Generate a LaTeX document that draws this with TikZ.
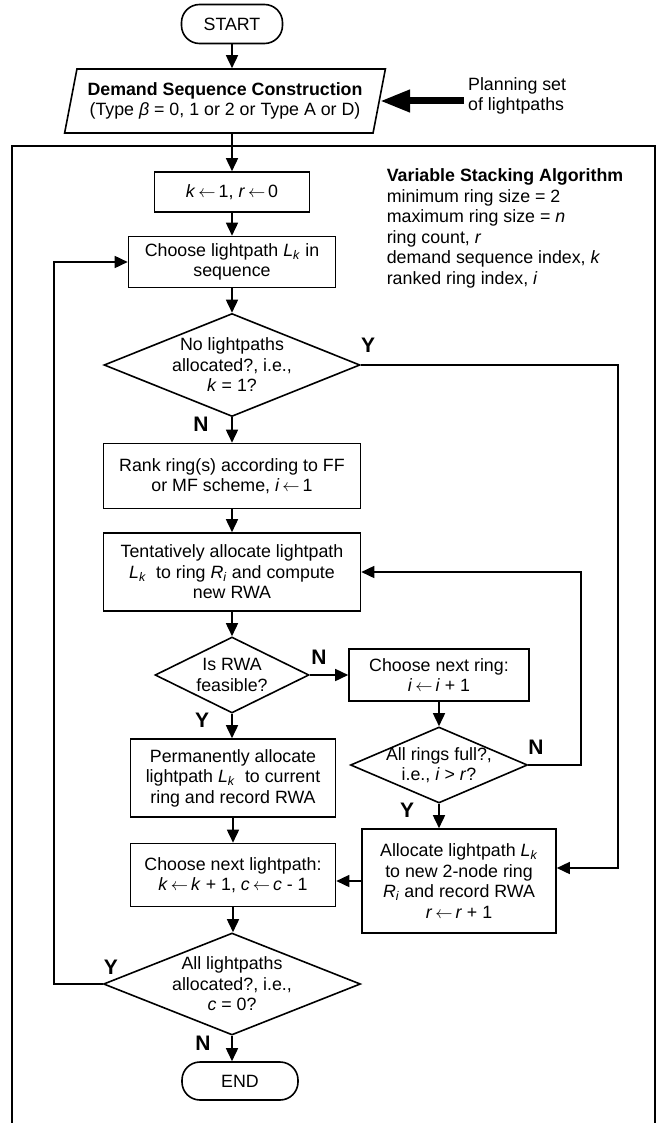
\documentclass[tikz,border=0pt]{standalone}
\usepackage{fontspec}
\setmainfont{Liberation Sans}
\usetikzlibrary{shapes.geometric,arrows.meta}
\newcommand{\Lk}{\textit{L}\textsubscript{\textit{k}}}
\newcommand{\Ri}{\textit{R}\textsubscript{\textit{i}}}
\newcommand{\asgn}{\,$\leftarrow$\,}
\begin{document}
\begin{tikzpicture}[x=1pt, y=-1pt, font=\fontsize{17.8}{20.5}\selectfont, line width=1.6pt,
  box/.style={draw, rectangle, align=center, inner sep=2pt},
  term/.style={draw, rectangle, rounded corners=18pt, minimum width=101pt, minimum height=39pt},
  decision/.style={draw, diamond, inner sep=0pt},
  yn/.style={font=\fontsize{21}{24}\selectfont\bfseries},
  arr/.style={-{Triangle[length=13pt,width=12pt]}},
  bigarr/.style={line width=7pt, -{Triangle[length=30pt,width=21pt]}}]
\useasboundingbox (0,0) rectangle (659,1123);
\node[term] (Start) at (232,24) {START};
\node[draw, trapezium, trapezium left angle=75, trapezium right angle=105, trapezium stretches=true, minimum width=322pt, minimum height=64pt, align=center] (Demand) at (225,101) {\textbf{Demand Sequence Construction}\\(Type \textit{β} = 0, 1 or 2 or Type A or D)};
\node[align=left, anchor=west] (Planning) at (464,96) {Planning set\\of lightpaths};
\draw (12,1123) |- (655,146) -- (655,1123);
\node[box, minimum width=155pt, minimum height=40pt] (Init) at (232,192) {\textit{k}\asgn 1, \textit{r}\asgn 0};
\node[box, minimum width=207pt, minimum height=51pt] (Choose) at (232,262) {Choose lightpath \Lk{} in\\sequence};
\node[align=left, anchor=north west, inner sep=0pt] (Info) at (386,168) {\textbf{Variable Stacking Algorithm}\\minimum ring size = 2\\maximum ring size = \textit{n}\\ring count, \textit{r}\\demand sequence index, \textit{k}\\ranked ring index, \textit{i}};
\node[decision, minimum width=256pt, minimum height=103pt, label={[align=center]center:No lightpaths\\allocated?, i.e.,\\\textit{k} = 1?}] (D1) at (232,365) {};
\node[box, minimum width=257pt, minimum height=65pt] (Rank) at (232,476) {Rank ring(s) according to FF\\or MF scheme, \textit{i}\asgn 1};
\node[box, minimum width=257pt, minimum height=78pt] (Tent) at (232,572) {Tentatively allocate lightpath\\\Lk~ to ring \Ri{} and compute\\new RWA};
\node[decision, minimum width=154pt, minimum height=76pt, label={[align=center]center:Is RWA\\feasible?}] (D2) at (232,675) {};
\node[box, minimum width=180pt, minimum height=52pt] (NextR) at (439,675) {Choose next ring:\\\textit{i}\asgn\textit{i} + 1};
\node[decision, minimum width=177pt, minimum height=76pt, label={[align=center]center:All rings full?,\\i.e., \textit{i} > \textit{r}?}] (D3) at (439,765) {};
\node[box, minimum width=205pt, minimum height=78pt] (Perm) at (233,778) {Permanently allocate\\lightpath \Lk~ to current\\ring and record RWA};
\node[box, minimum width=194pt, minimum height=104pt] (Alloc) at (459,881) {Allocate lightpath \Lk\\to new 2-node ring\\\Ri{} and record RWA\\\textit{r}\asgn\textit{r} + 1};
\node[box, minimum width=205pt, minimum height=63pt] (NextL) at (233,875) {Choose next lightpath:\\\textit{k}\asgn\textit{k} + 1, \textit{c}\asgn\textit{c} - 1};
\node[decision, minimum width=257pt, minimum height=102pt, label={[align=center]center:All lightpaths\\allocated?, i.e.,\\\textit{c} = 0?}] (D4) at (232,984) {};
\node[term, minimum width=116pt, minimum height=38pt] (End) at (240,1081) {END};
%main column
\draw[arr] (Start.south) -- (Start.south |- Demand.north);
\draw[bigarr] (Planning.west |- Demand.east) -- (Demand.east);
\draw[arr] (Init.north |- Demand.south) -- (Init.north);
\draw[arr] (Init) -- (Choose);
\draw[arr] (Choose) -- (D1);
\draw[arr] (D1) -- (Rank);
\draw[arr] (Rank) -- (Tent);
\draw[arr] (Tent) -- (D2);
\draw[arr] (D2) -- (NextR);
\draw[arr] (NextR) -- (D3);
\draw[arr] (D2.south) -- (D2.south |- Perm.north);
\draw[arr] (Perm) -- (NextL);
\draw[arr] (D3.south) -- (D3.south |- Alloc.north);
\draw[arr] (Alloc.west) -- (Alloc.west -| NextL.east);
\draw[arr] (NextL.south) -- (NextL.south |- D4.north);
\draw[arr] (D4.south) -- (D4.south |- End.north);
%loops
\coordinate (YCorner) at (618,868);
\coordinate (NCorner) at (581,572);
\coordinate (LoopCorner) at (54,262);
\draw[arr] (D1.east) -| (YCorner) -- ([yshift=13pt]Alloc.east);
\draw[arr] (D3.east) -| (NCorner) -- (Tent.east);
\draw[arr] (D4.west) -| (LoopCorner) -- (Choose.west);
%labels
\node[yn] (YD1) at (368,345) {Y};
\node[yn] (ND1) at (201,424) {N};
\node[yn] (ND2) at (319,657) {N};
\node[yn] (YD2) at (202,720) {Y};
\node[yn] (ND3) at (536,747) {N};
\node[yn] (YD3) at (407,810) {Y};
\node[yn] (YD4) at (111,967) {Y};
\node[yn] (ND4) at (203,1043) {N};
\end{tikzpicture}
\end{document}
